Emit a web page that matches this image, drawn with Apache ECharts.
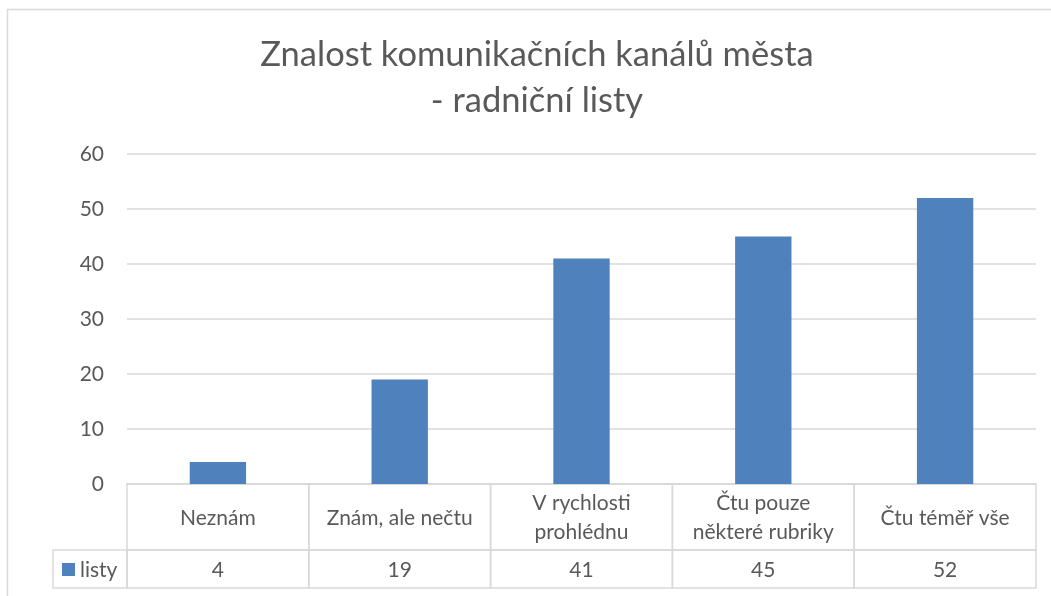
<!DOCTYPE html>
<html>
<head>
<meta charset="utf-8">
<script src="https://cdn.jsdelivr.net/npm/echarts@6/dist/echarts.min.js"></script>
<style>
  html, body { margin: 0; padding: 0; background: #fff; }
  #chart { width: 1051px; height: 596px; }
</style>
</head>
<body>
<div id="chart"></div>
<script>
// data
var categories = ['Neznám', 'Znám, ale nečtu', 'V rychlosti\nprohlédnu', 'Čtu pouze\nněkteré rubriky', 'Čtu téměř vše'];
var values = [4, 19, 41, 45, 52];
var seriesName = 'listy';
var titleLines = ['Znalost komunikačních kanálů města', '- radniční listy'];
var yMin = 0, yMax = 60, yStep = 10;

var textColor = '#595959';
var lineColor = '#d9d9d9';
var barColor = '#4f81bd';
var font = 'Lato, "Open Sans", sans-serif';

var chart = echarts.init(document.getElementById('chart'));

// cells of the data table, drawn on the category axis
function cellRenderer(getText) {
  return function (params, api) {
    var i = api.value(0);
    var cs = params.coordSys;
    var w = api.size([1, 0])[0];
    var cx = api.coord([i, 0])[0];
    return {
      type: 'group',
      children: [{
        type: 'rect',
        shape: { x: cx - w / 2, y: cs.y, width: w, height: cs.height },
        style: { fill: 'none', stroke: lineColor, lineWidth: 1.5 }
      }, {
        type: 'text',
        style: {
          text: getText(i), x: cx, y: cs.y + cs.height / 2 + 1,
          align: 'center', verticalAlign: 'middle',
          fill: textColor, font: '21px ' + font, lineHeight: 29
        }
      }]
    };
  };
}

var option = {
  animation: false,
  textStyle: { fontFamily: font },
  graphic: [
    { type: 'rect', shape: { x: 7.5, y: 9.5, width: 1200, height: 800 },
      style: { fill: 'none', stroke: lineColor, lineWidth: 1.5 }, z: -1 },
    { type: 'text', x: 537, y: 55,
      style: { text: titleLines[0], align: 'center', verticalAlign: 'middle', fill: textColor, font: '34.5px ' + font } },
    { type: 'text', x: 537, y: 101,
      style: { text: titleLines[1], align: 'center', verticalAlign: 'middle', fill: textColor, font: '34.5px ' + font } },
    // legend cell of the table
    { type: 'rect', shape: { x: 53, y: 550, width: 74, height: 38 },
      style: { fill: 'none', stroke: lineColor, lineWidth: 1.5 } },
    { type: 'rect', shape: { x: 62, y: 563, width: 13, height: 13 }, style: { fill: barColor } },
    { type: 'text', x: 80, y: 570,
      style: { text: seriesName, verticalAlign: 'middle', fill: textColor, font: '21px ' + font } }
  ],
  grid: [
    { left: 127, right: 15, top: 154, bottom: 112 },
    { left: 127, right: 15, top: 484, bottom: 46 },
    { left: 127, right: 15, top: 550, bottom: 8 }
  ],
  xAxis: [
    { type: 'category', gridIndex: 0, data: categories,
      axisLine: { lineStyle: { color: lineColor, width: 1.5 } },
      axisTick: { show: false }, axisLabel: { show: false } },
    { type: 'category', gridIndex: 1, data: categories, show: false },
    { type: 'category', gridIndex: 2, data: categories, show: false }
  ],
  yAxis: [
    { type: 'value', gridIndex: 0, min: yMin, max: yMax, interval: yStep,
      axisLine: { show: false }, axisTick: { show: false },
      axisLabel: { color: textColor, fontSize: 21, margin: 23, fontFamily: font },
      splitLine: { lineStyle: { color: lineColor, width: 1.5 } } },
    { type: 'value', gridIndex: 1, show: false, min: 0, max: 1 },
    { type: 'value', gridIndex: 2, show: false, min: 0, max: 1 }
  ],
  series: [
    { name: seriesName, type: 'bar', xAxisIndex: 0, yAxisIndex: 0,
      data: values, barWidth: '31%', itemStyle: { color: barColor } },
    { type: 'custom', xAxisIndex: 1, yAxisIndex: 1, silent: true,
      data: categories.map(function (c, i) { return [i, 0]; }),
      renderItem: cellRenderer(function (i) { return categories[i]; }) },
    { type: 'custom', xAxisIndex: 2, yAxisIndex: 2, silent: true,
      data: values.map(function (v, i) { return [i, 0]; }),
      renderItem: cellRenderer(function (i) { return String(values[i]); }) }
  ]
};

chart.setOption(option);
</script>
</body>
</html>
